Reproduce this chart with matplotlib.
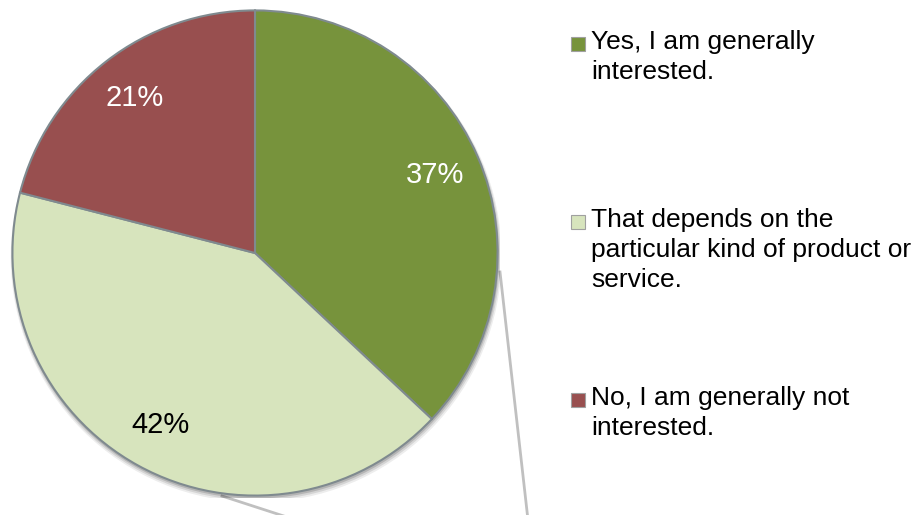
import matplotlib.pyplot as plt
from matplotlib.patches import Circle, Rectangle
from matplotlib.lines import Line2D

plt.rcParams['font.family'] = ['Liberation Sans', 'DejaVu Sans']

labels = ["Yes, I am generally\ninterested.",
          "That depends on the\nparticular kind of product or\nservice.",
          "No, I am generally not\ninterested."]
shares = [37, 42, 21]
colors = ["#77933C", "#D7E4BD", "#984F4F"]
text_colors = ["white", "black", "white"]

W, H = 911, 515
fig = plt.figure(figsize=(W / 100, H / 100), dpi=100)

# pie centre (255, 253) px from top-left, radius 245 px
cx, cy, r = 255, 253, 245
ax = fig.add_axes([(cx - r) / W, (H - cy - r) / H, 2 * r / W, 2 * r / H])

# soft shadow under the pie
for i, a in enumerate([0.07, 0.1, 0.15]):
    off = 0.016 - i * 0.004
    ax.add_patch(Circle((off * 0.3, -off), 1.0 + 0.004 * (3 - i), color="black",
                        alpha=a, lw=0, zorder=0))

wedges, texts, autotexts = ax.pie(
    shares, colors=colors, startangle=90, counterclock=False,
    autopct="%d%%", pctdistance=0.81,
    wedgeprops=dict(edgecolor="#7f8a8f", linewidth=1.5),
    textprops=dict(fontsize=21))
for t, c in zip(autotexts, text_colors):
    t.set_color(c)
ax.set_xlim(-1.01, 1.01)
ax.set_ylim(-1.01, 1.01)
ax.set_aspect("equal")
ax.axis("off")

# connector lines to the (cut off) secondary chart
def px(x, y):
    return x / W, 1 - y / H

for (x0, y0), (x1, y1) in [((500, 272), (528, 520)), ((222, 496), (296, 520))]:
    (a0, b0), (a1, b1) = px(x0, y0), px(x1, y1)
    fig.add_artist(Line2D([a0, a1], [b0, b1], color="#c0c0c0", lw=2,
                          transform=fig.transFigure, zorder=-1))

# legend
item_y = [44, 222, 400]
for lab, col, y in zip(labels, colors, item_y):
    x0, y0 = px(571, y + 7)
    fig.add_artist(Rectangle((x0, y0), 14 / W, 14 / H, facecolor=col,
                             edgecolor="#a0a0a0", lw=0.8,
                             transform=fig.transFigure))
    tx, ty = px(591, y - 14)
    fig.text(tx, ty, lab, fontsize=19, color="black", va="top", ha="left",
             linespacing=1.32)

fig.savefig("out.png", dpi=100)
